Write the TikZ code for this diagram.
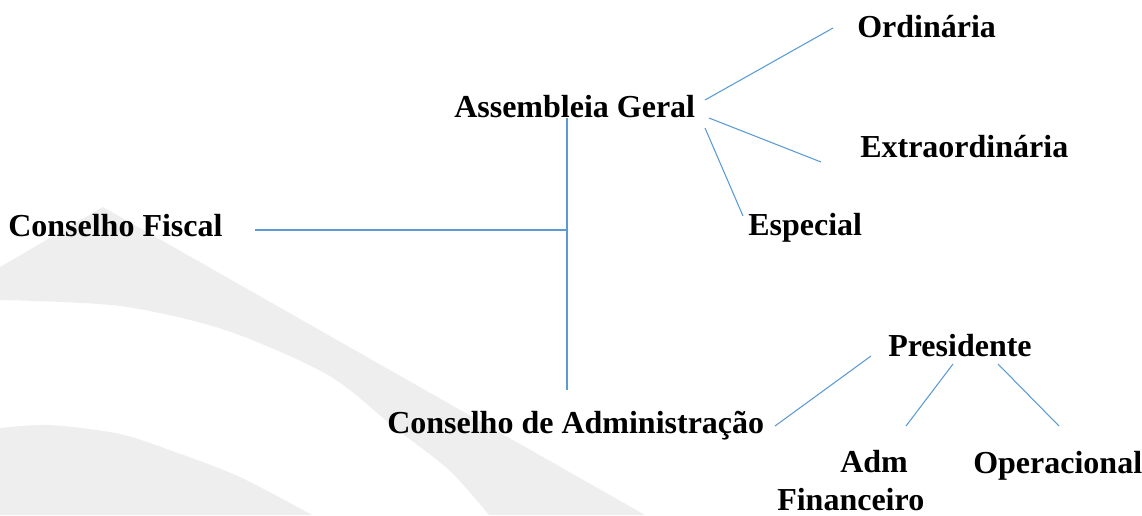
\documentclass[tikz,border=0pt]{standalone}
\usepackage{fontspec}
\setmainfont{Liberation Serif}
\definecolor{wm}{RGB}{238,238,238}
\definecolor{ln}{RGB}{91,155,213}
\begin{document}
\begin{tikzpicture}[x=0.75pt,y=-0.75pt,
  lbl/.style={inner sep=0pt, anchor=base west, font=\fontsize{24pt}{28.5pt}\selectfont\bfseries},
  conn/.style={draw=ln, line width=0.8pt}]
\useasboundingbox (0,0) rectangle (1142,515);
% watermark
\fill[wm] (0,267) -- (103,207) -- (645,515) -- (489,515)
  -- plot[smooth] coordinates {(489,515) (449,470) (395,428) (328,375) (225,330) (120,306) (0,300)} -- cycle;
\fill[wm] plot[smooth] coordinates {(0,428) (50,425) (120,434) (175,452) (240,477) (312,515)} -- (0,515) -- cycle;
% labels
\node[lbl] (fis) at (8,236) {Conselho Fiscal};
\node[lbl] (ag) at (454,117) {Assembleia Geral};
\node[lbl] (ord) at (857,37) {Ordinária};
\node[lbl] (ext) at (860,157) {Extraordinária};
\node[lbl] (esp) at (748,235) {Especial};
\node[lbl] (ca) at (387,433) {Conselho de Administração};
\node[lbl] (pres) at (888,356) {Presidente};
\node[lbl, align=left] (adm) at (777,510) {\hspace*{47.25pt}Adm\\Financeiro};
\node[lbl] (op) at (973,473) {Operacional};
% connector end points
\coordinate (fisE) at (255,230);
\coordinate (jn) at (567,230);
\coordinate (agS) at (567,118);
\coordinate (caN) at (567,390);
\coordinate (agO) at (705,100);
\coordinate (ordW) at (833,28);
\coordinate (agX) at (709,118);
\coordinate (extW) at (821,162);
\coordinate (agE) at (705,128);
\coordinate (espN) at (743,216);
\coordinate (caE) at (775,426);
\coordinate (presW) at (871,356);
\coordinate (presA) at (953,364);
\coordinate (admN) at (906,426);
\coordinate (presO) at (998,364);
\coordinate (opN) at (1059,426);
% connectors
\draw[conn] (fisE) -- (jn);
\draw[conn] (agS) -- (caN);
\draw[conn] (agO) -- (ordW);
\draw[conn] (agX) -- (extW);
\draw[conn] (agE) -- (espN);
\draw[conn] (caE) -- (presW);
\draw[conn] (presA) -- (admN);
\draw[conn] (presO) -- (opN);
\end{tikzpicture}
\end{document}
